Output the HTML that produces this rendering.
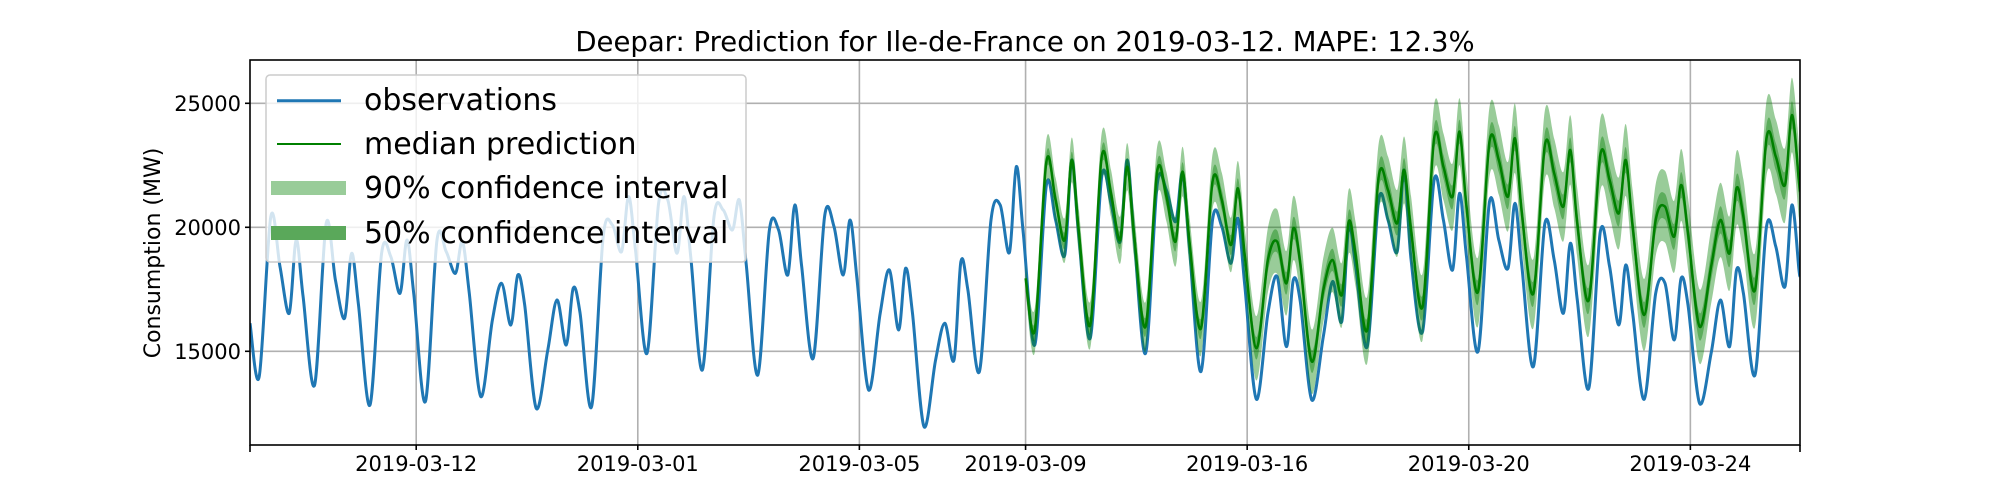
<!DOCTYPE html>
<html><head><meta charset="utf-8"><style>
html,body{margin:0;padding:0;background:#fff;}
svg{display:block;font-family:"DejaVu Sans","Liberation Sans",sans-serif;}
</style></head><body>
<svg id="chart" width="2000" height="500" viewBox="0 0 2000 500">
<defs><clipPath id="plotclip"><rect x="250" y="60" width="1550" height="385"/></clipPath></defs>
<rect x="0" y="0" width="2000" height="500" fill="#fff"/>
<text x="1025" y="51" font-size="27.5" text-anchor="middle" fill="#000">Deepar: Prediction for Ile-de-France on 2019-03-12. MAPE: 12.3%</text>
<g id="grid"></g>
<g id="series" clip-path="url(#plotclip)"></g>
<g id="axes"></g>
<text transform="translate(160,253) rotate(-90)" font-size="22" text-anchor="middle" fill="#000">Consumption (MW)</text>
<g id="legend">
<rect x="266" y="75" width="480" height="187" rx="4" fill="#fff" fill-opacity="0.8" stroke="#ccc" stroke-width="1.5"/>
<line x1="277" y1="100.7" x2="341" y2="100.7" stroke="#1f77b4" stroke-width="3"/>
<text x="364" y="110" font-size="30" fill="#000">observations</text>
<line x1="277" y1="144" x2="341" y2="144" stroke="#008000" stroke-width="2"/>
<text x="364" y="154" font-size="30" fill="#000">median prediction</text>
<rect x="271" y="181" width="75" height="14" fill="#99cc99"/>
<text x="364" y="198" font-size="30" fill="#000">90% confidence interval</text>
<rect x="271" y="226" width="75" height="14" fill="#5aa85a"/>
<text x="364" y="243" font-size="30" fill="#000">50% confidence interval</text>
</g>
</svg>
<script>
const yTicks = [15000, 20000, 25000];
const xTickDays = [3, 7, 11, 14, 18, 22, 26];
const xTickLabels = ["2019-03-12", "2019-03-01", "2019-03-05", "2019-03-09", "2019-03-16", "2019-03-20", "2019-03-24"];
const dayHours = [4, 9, 13, 17, 20, 23];
const obsStart = 16130;
const obsEnd = 18011;
const observations = [
13979,20430,18414,16533,19489,17204,
13643,20161,17877,16331,18952,16868,
12836,18952,18817,17339,19489,17272,
12971,19489,19019,18145,19422,17339,
13172,16264,17742,16062,18078,16868,
12702,15054,17070,15256,17540,16533,
12769,19624,20094,19019,21236,19086,
14920,20968,21102,18952,21236,18750,
14248,20430,20699,19892,21102,18481,
14046,19892,19892,18078,20900,18414,
14718,20497,20027,18078,20296,17877,
13441,16533,18280,15860,18347,16533,
11963,14651,16130,14651,18616,17473,
14180,20296,20900,18979,22446,19758,
15256,21707,20296,18884,22715,19691,
15525,22043,20968,19422,22715,19624,
14920,21707,21505,20228,22177,19153,
14180,20296,20027,18548,20363,17608,
13065,16533,18011,15189,17877,17003,
13038,15592,17809,16197,20027,18414,
15189,21102,20296,19019,22312,18683,
15793,21908,20296,18280,21371,18817,
14987,21035,19489,18347,20968,18414,
14382,20161,18683,16533,19355,17070,
13508,19825,18414,16062,18481,16533,
13065,17339,17742,15457,17944,16868,
12905,14920,17070,15189,18280,17339,
14046,20027,19220,17608,20900,18347];
const predFirstDay = 14;
const predStart = 17944;
const predEnd = 21438;
const median = [
15860,22648,21102,19489,22715,19892,
16062,22849,21371,19489,22446,19691,
15995,22244,21236,19422,22244,19422,
15928,21841,21102,19288,21572,18817,
15121,18683,19422,17742,19960,18548,
14584,17473,18683,17272,20228,18884,
15860,22043,21505,20161,22312,19892,
16801,23588,22446,21236,23857,20833,
17400,23454,22715,21236,23588,20564,
17339,23320,22177,20833,23118,20161,
17070,22916,21908,20564,22715,20027,
16465,20296,20833,19624,21707,19758,
15995,18414,20296,18952,21572,20430,
17473,23588,22849,21707,24529,21908];
const halfWidth90 = [900,950,1000,1100,1300,1300,1350,1350,1400,1400,1450,1450,1500,1500];
const halfWidth50 = [330,350,380,400,450,450,480,480,500,500,520,520,550,550];
const totalHours = 671.5;

const NS = "http://www.w3.org/2000/svg";
function xScale(t){ return 250 + t * 1550 / totalHours; }
function yScale(v){ return 227.3 - (v - 20000) * 0.0248; }
function mk(tag, attrs, parent){ const e=document.createElementNS(NS,tag); for(const k in attrs) e.setAttribute(k,attrs[k]); parent.appendChild(e); return e; }
function smooth(pts, move){
  // Catmull-Rom through pixel points
  let d=(move?'M':'L')+pts[0][0].toFixed(1)+','+pts[0][1].toFixed(1);
  const k=0.16;
  for(let i=0;i<pts.length-1;i++){
    const p0=pts[Math.max(0,i-1)], p1=pts[i], p2=pts[i+1], p3=pts[Math.min(pts.length-1,i+2)];
    const c1=[p1[0]+(p2[0]-p0[0])*k, p1[1]+(p2[1]-p0[1])*k];
    const c2=[p2[0]-(p3[0]-p1[0])*k, p2[1]-(p3[1]-p1[1])*k];
    d+='C'+c1[0].toFixed(1)+','+c1[1].toFixed(1)+' '+c2[0].toFixed(1)+','+c2[1].toFixed(1)+' '+p2[0].toFixed(1)+','+p2[1].toFixed(1);
  }
  return d;
}

const grid=document.getElementById('grid'), axes=document.getElementById('axes'), series=document.getElementById('series');
yTicks.forEach(v=>{
  const y=yScale(v);
  const g=mk('line',{x1:250,x2:1800,y1:y,y2:y,stroke:'#b0b0b0','stroke-width':1.6},grid);
  
  
  const tk=mk('line',{x1:245,x2:250,y1:y,y2:y,stroke:'#000','stroke-width':1.6},axes);
  
  
  const t=mk('text',{x:241,y:y+7.5,'font-size':21,'text-anchor':'end',fill:'#000'},axes);
  t.textContent=String(v);
  
  
});
xTickDays.forEach((d,i)=>{
  const x=xScale(d*24);
  const g=mk('line',{x1:x,x2:x,y1:60,y2:445,stroke:'#b0b0b0','stroke-width':1.6},grid);
  
  
  const tk=mk('line',{x1:x,x2:x,y1:445,y2:450,stroke:'#000','stroke-width':1.6},axes);
  
  
  const t=mk('text',{x:x,y:471,'font-size':21,'text-anchor':'middle',fill:'#000'},axes);
  t.textContent=xTickLabels[i];
  
  
});
[250,1800].forEach(x=>{
  const tk=mk('line',{x1:x,x2:x,y1:445,y2:452,stroke:'#000','stroke-width':1.6},axes);
  
  
});
const frame=mk('rect',{x:250,y:60,width:1550,height:385,fill:'none',stroke:'#000','stroke-width':1.6},axes);



// observations
let obsPts=[[0,obsStart]];
observations.forEach((v,i)=>{ const d=Math.floor(i/dayHours.length), h=dayHours[i%dayHours.length]; obsPts.push([d*24+h,v]); });
obsPts.push([totalHours,obsEnd]);
const obsPath=mk('path',{d:smooth(obsPts.map(p=>[xScale(p[0]),yScale(p[1])]),true),fill:'none',stroke:'#1f77b4','stroke-width':3,'stroke-linejoin':'round'},series);



// prediction
let pred=[{t:predFirstDay*24,m:predStart,w5:halfWidth50[0]*0.6,w9:halfWidth90[0]*0.6}];
median.forEach((v,i)=>{ const di=Math.floor(i/dayHours.length), h=dayHours[i%dayHours.length]; pred.push({t:(predFirstDay+di)*24+h,m:v,w5:halfWidth50[di],w9:halfWidth90[di]}); });
pred.push({t:totalHours,m:predEnd,w5:halfWidth50[halfWidth50.length-1],w9:halfWidth90[halfWidth90.length-1]});
function band(key){
  const up=pred.map(p=>[xScale(p.t),yScale(p.m+p[key])]);
  const lo=pred.slice().reverse().map(p=>[xScale(p.t),yScale(p.m-p[key])]);
  return smooth(up,true)+smooth(lo,false)+'Z';
}
const b90=mk('path',{d:band('w9'),fill:'#008000','fill-opacity':0.4,stroke:'none'},series);


const b50=mk('path',{d:band('w5'),fill:'#008000','fill-opacity':0.4,stroke:'none'},series);


const med=mk('path',{d:smooth(pred.map(p=>[xScale(p.t),yScale(p.m)]),true),fill:'none',stroke:'#008000','stroke-width':2.5,'stroke-linejoin':'round'},series);


</script>
</body></html>
